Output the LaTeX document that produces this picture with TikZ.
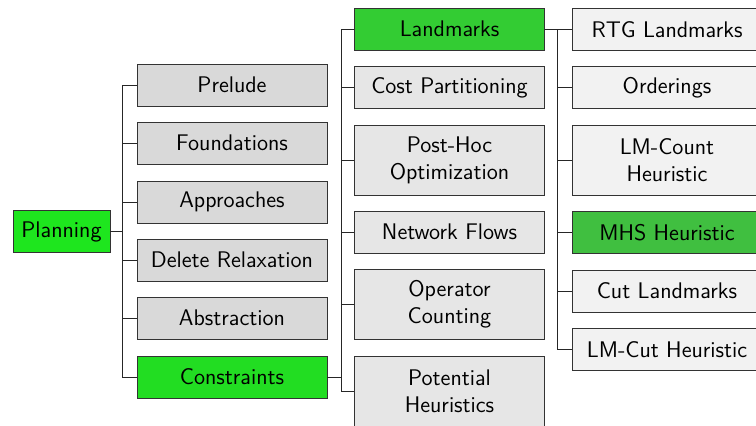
\documentclass[tikz,border=0pt]{standalone}
\usepackage{xcolor}
\usepackage{tikz}
\usetikzlibrary{positioning}
\definecolor{rootgreen}{RGB}{30,230,30}
\definecolor{onegreen}{RGB}{34,221,34}
\definecolor{twogreen}{RGB}{51,204,51}
\definecolor{threegreen}{RGB}{64,191,64}
\definecolor{onegray}{RGB}{217,217,217}
\definecolor{twogray}{RGB}{230,230,230}
\definecolor{threegray}{RGB}{242,242,242}

\begin{document}
\begin{tikzpicture}[x=0.5pt,y=-0.5pt]
\tikzstyle{mybox}=[rectangle,draw=black!80,font=\sffamily\fontsize{11.3}{13.5}\selectfont,align=center,minimum width=95pt,minimum height=21pt,inner sep=2pt];
\tikzstyle{tallbox}=[mybox,minimum height=35pt];
\tikzstyle{myedges}=[black!85,line width=0.45pt];
\useasboundingbox (0,0) rectangle (756,426);
\clip (0,0) rectangle (756,426);
% root
\node[mybox,fill=rootgreen,minimum width=48.5pt](x0) at (61.5,231.5){Planning};
% first level
\node[mybox,fill=onegray](x1) at (232,85){Prelude};
\node[mybox,fill=onegray](x2) at (232,143){Foundations};
\node[mybox,fill=onegray](x3) at (232,202){Approaches};
\node[mybox,fill=onegray](x4) at (232,260){Delete Relaxation};
\node[mybox,fill=onegray](x5) at (232,318){Abstraction};
\node[mybox,fill=onegreen](x6) at (232,377){Constraints};
% second level
\node[mybox,fill=twogreen](y1) at (449.5,29){Landmarks};
\node[mybox,fill=twogray](y2) at (449.5,87.5){Cost Partitioning};
\node[tallbox,fill=twogray](y3) at (449.5,160){Post-Hoc\\Optimization};
\node[mybox,fill=twogray](y4) at (449.5,232){Network Flows};
\node[tallbox,fill=twogray](y5) at (449.5,304.5){Operator\\Counting};
\node[tallbox,fill=twogray](y6) at (449.5,391){Potential\\Heuristics};
% third level
\node[mybox,fill=threegray](z1) at (667,29.5){RTG Landmarks};
\node[mybox,fill=threegray](z2) at (667,87.5){Orderings};
\node[tallbox,fill=threegray](z3) at (667,160){LM-Count\\Heuristic};
\node[mybox,fill=threegreen](z4) at (667,232.5){MHS Heuristic};
\node[mybox,fill=threegray](z5) at (667,291){Cut Landmarks};
\node[mybox,fill=threegray](z6) at (667,349.5){LM-Cut Heuristic};
% edges
\draw[myedges] (x0.east) -- ([xshift=6pt]x0.east) |- (x1.west);
\draw[myedges] (x0.east) -- ([xshift=6pt]x0.east) |- (x2.west);
\draw[myedges] (x0.east) -- ([xshift=6pt]x0.east) |- (x3.west);
\draw[myedges] (x0.east) -- ([xshift=6pt]x0.east) |- (x4.west);
\draw[myedges] (x0.east) -- ([xshift=6pt]x0.east) |- (x5.west);
\draw[myedges] (x0.east) -- ([xshift=6pt]x0.east) |- (x6.west);
\draw[myedges] (x6.east) -- ([xshift=7pt]x6.east) |- (y1.west);
\draw[myedges] (x6.east) -- ([xshift=7pt]x6.east) |- (y2.west);
\draw[myedges] (x6.east) -- ([xshift=7pt]x6.east) |- (y3.west);
\draw[myedges] (x6.east) -- ([xshift=7pt]x6.east) |- (y4.west);
\draw[myedges] (x6.east) -- ([xshift=7pt]x6.east) |- (y5.west);
\draw[myedges] (x6.east) -- ([xshift=7pt]x6.east) |- (y6.west);
\draw[myedges] (y1.east) -- ([xshift=6.5pt]y1.east) |- (z1.west);
\draw[myedges] (y1.east) -- ([xshift=6.5pt]y1.east) |- (z2.west);
\draw[myedges] (y1.east) -- ([xshift=6.5pt]y1.east) |- (z3.west);
\draw[myedges] (y1.east) -- ([xshift=6.5pt]y1.east) |- (z4.west);
\draw[myedges] (y1.east) -- ([xshift=6.5pt]y1.east) |- (z5.west);
\draw[myedges] (y1.east) -- ([xshift=6.5pt]y1.east) |- (z6.west);
\end{tikzpicture}
\end{document}
